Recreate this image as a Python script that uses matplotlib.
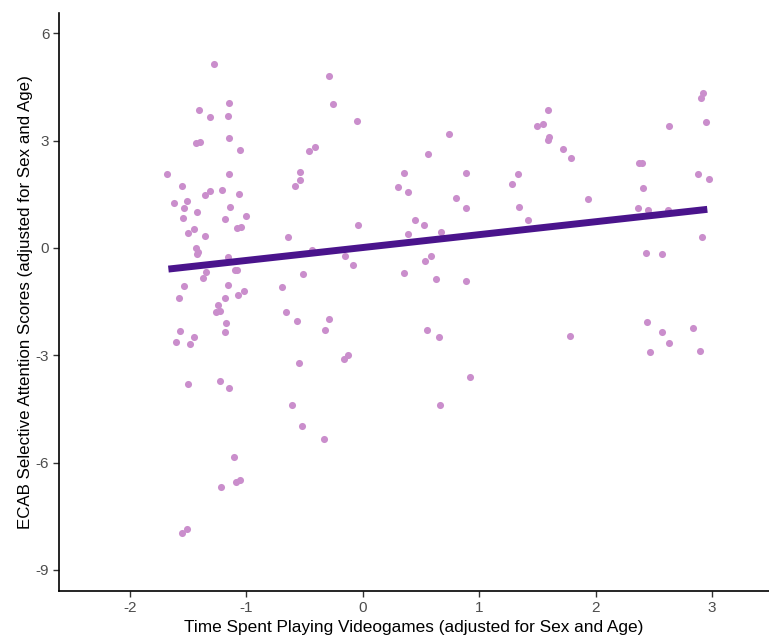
import numpy as np
import matplotlib
matplotlib.use('Agg')
import matplotlib.pyplot as plt

plt.rcParams['font.family'] = ['Liberation Sans', 'DejaVu Sans']
plt.rcParams['axes.unicode_minus'] = False

# Time spent playing videogames (adjusted residuals)
game_time = [
    -1.275, -1.150, -1.410, -1.309, -1.161, -1.431, -1.397, -1.150, -1.058, -1.681,
    -1.150, -1.556, -1.356, -1.311, -1.206, -1.060, -1.625, -1.511, -1.534, -1.139,
    -1.421, -1.545, -1.185, -1.003, -1.083, -1.047, -1.500, -1.453, -1.354, -1.436,
    -1.419, -1.425, -1.161, -1.348, -1.099, -1.082, -1.375, -1.534, -1.161, -1.581,
    -1.185, -1.070, -1.024, -1.240, -1.226, -1.264, -1.172, -1.568, -1.453, -1.183,
    -1.603, -1.488, -1.500, -1.227, -1.150, -1.105, -1.216, -1.093, -1.058, -1.556,
    -1.511,
    -0.289, -0.255, -0.052, -0.461, -0.412, -0.538, -0.538, -0.584, -0.040, -0.639,
    -0.438, -0.153, -0.084, -0.517, -0.695, -0.663, -0.561, -0.289, -0.324, -0.549,
    -0.165, -0.130, -0.607, -0.526, -0.332,
    0.356, 0.300, 0.392, 0.561, 0.741, 0.890, 0.798, 0.890, 0.449, 0.526,
    0.392, 0.674, 0.584, 0.538, 0.356, 0.629, 0.890, 0.549, 0.652, 0.921,
    0.664,
    1.330, 1.285, 1.339, 1.422, 1.590, 1.498, 1.545, 1.590, 1.603, 1.717,
    1.785, 1.931, 1.784,
    2.633, 2.372, 2.395, 2.406, 2.361, 2.452, 2.620, 2.904, 2.923, 2.950,
    2.882, 2.973, 2.916, 2.429, 2.567, 2.440, 2.567, 2.464, 2.634, 2.837,
    2.893,
]

# ECAB selective attention scores (adjusted residuals)
attention = [
    5.14, 4.06, 3.85, 3.66, 3.70, 2.93, 2.97, 3.08, 2.74, 2.08,
    2.08, 1.74, 1.48, 1.59, 1.63, 1.52, 1.27, 1.30, 1.11, 1.14,
    1.01, 0.85, 0.82, 0.89, 0.55, 0.60, 0.41, 0.52, 0.34, -0.01,
    -0.10, -0.18, -0.25, -0.66, -0.62, -0.62, -0.83, -1.06, -1.03, -1.39,
    -1.40, -1.32, -1.21, -1.60, -1.75, -1.80, -2.10, -2.32, -2.48, -2.36,
    -2.62, -2.68, -3.80, -3.73, -3.92, -5.84, -6.69, -6.54, -6.50, -7.98,
    -7.87,
    4.81, 4.03, 3.55, 2.70, 2.82, 2.12, 1.89, 1.74, 0.63, 0.31,
    -0.06, -0.22, -0.48, -0.73, -1.10, -1.80, -2.03, -1.98, -2.29, -3.21,
    -3.10, -2.98, -4.39, -4.98, -5.35,
    2.11, 1.71, 1.56, 2.63, 3.18, 2.11, 1.41, 1.11, 0.78, 0.63,
    0.38, 0.45, -0.22, -0.36, -0.70, -0.88, -0.92, -2.29, -2.48, -3.62,
    -4.39,
    2.08, 1.78, 1.15, 0.78, 3.85, 3.40, 3.47, 3.03, 3.11, 2.78,
    2.52, 1.37, -2.47,
    3.40, 2.37, 2.37, 1.67, 1.11, 1.05, 1.05, 4.18, 4.33, 3.52,
    2.08, 1.93, 0.30, -0.15, -0.18, -2.06, -2.36, -2.92, -2.66, -2.25,
    -2.88,
]

# fitted regression line (ends)
fit_x = [-1.67, 2.96]
fit_y = [-0.59, 1.08]

x_ticks = [-2, -1, 0, 1, 2, 3]
y_ticks = [-9, -6, -3, 0, 3, 6]

fig = plt.figure(figsize=(7.69, 6.39), dpi=100)
ax = fig.add_axes([0.0767, 0.0751, 0.9233, 0.9046])

ax.scatter(game_time, attention, s=26, color='#CA8ECC', linewidths=0, zorder=2)
ax.plot(fit_x, fit_y, color='#4A148C', linewidth=5.0, solid_capstyle='butt', zorder=3)

ax.set_xlim(-2.61, 3.49)
ax.set_ylim(-9.59, 6.57)
ax.set_xticks(x_ticks)
ax.set_yticks(y_ticks)

for side in ['top', 'right']:
    ax.spines[side].set_visible(False)
for side in ['left', 'bottom']:
    ax.spines[side].set_linewidth(1.2)
    ax.spines[side].set_color('black')

ax.tick_params(axis='both', length=4, width=1, color='#333333',
               labelcolor='#4D4D4D', labelsize=11, pad=3)

ax.set_xlabel('Time Spent Playing Videogames (adjusted for Sex and Age)',
              fontsize=12.4, color='black', labelpad=4)
ax.set_ylabel('ECAB Selective Attention Scores (adjusted for Sex and Age)',
              fontsize=12.2, color='black', labelpad=2)

plt.savefig('out.png', dpi=100)
plt.close()
